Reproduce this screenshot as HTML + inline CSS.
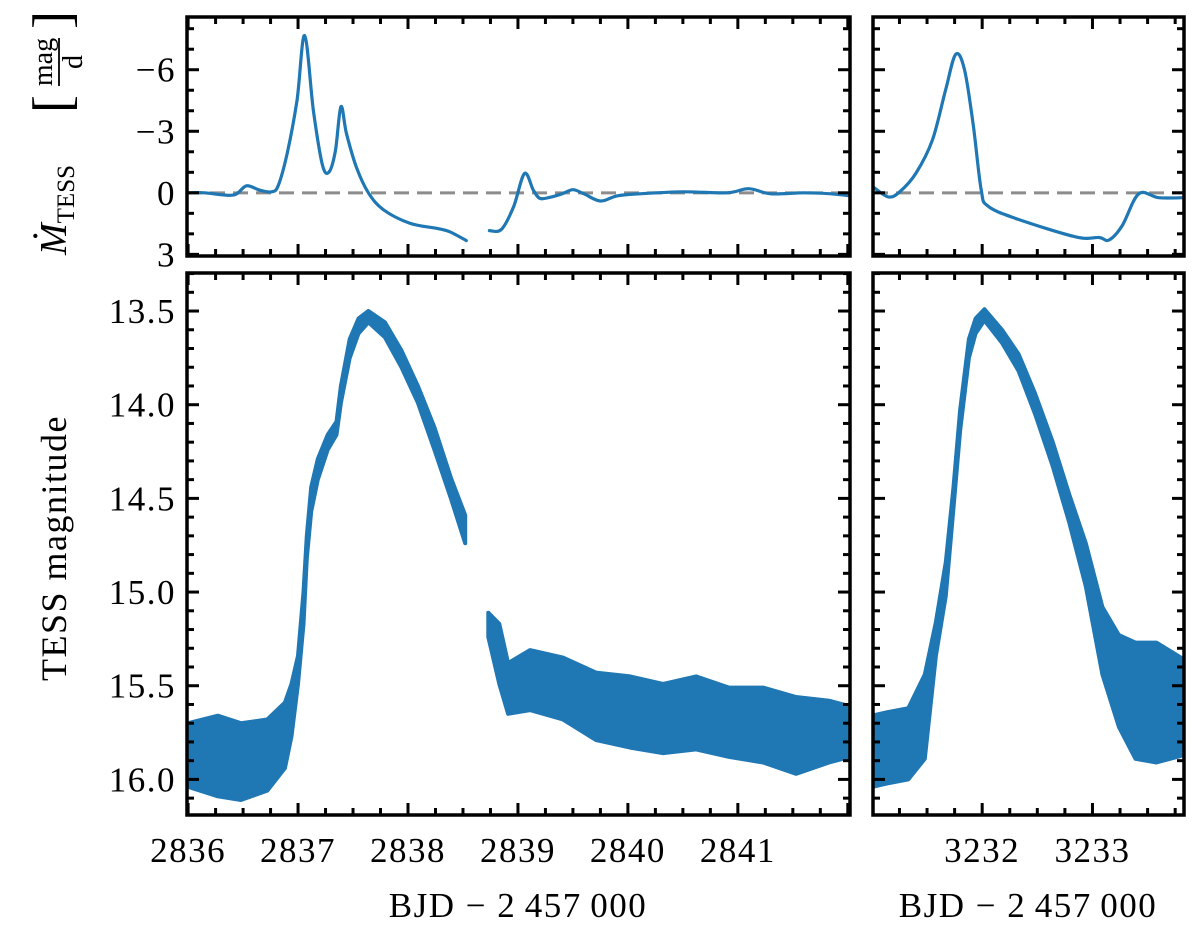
<!DOCTYPE html>
<html><head><meta charset="utf-8"><style>
body{margin:0;background:#fff}
svg text{font-family:"Liberation Serif",serif;fill:#000}
</style></head><body>
<svg id="fig" width="1200" height="937" viewBox="0 0 1200 937" xmlns="http://www.w3.org/2000/svg"></svg>
<script>
// ---- data: top-left panel (magnitude derivative) ----
const dT1a=[2836.0,2836.15,2836.41,2836.53,2836.65,2836.76,2836.82,2836.9,2836.99,2837.06,2837.14,2837.22,2837.28,2837.34,2837.39,2837.44,2837.53,2837.64,2837.78,2838.02,2838.26,2838.38,2838.53];
const dV1a=[0.0,0.0,0.11,-0.34,-0.13,-0.05,-0.36,-1.9,-4.5,-7.67,-4.0,-1.4,-1.0,-2.05,-4.2,-2.9,-1.26,0.0,0.84,1.49,1.73,1.9,2.33];
const dT1b=[2838.74,2838.85,2838.96,2839.06,2839.14,2839.2,2839.29,2839.4,2839.5,2839.6,2839.75,2839.9,2840.1,2840.5,2840.9,2841.1,2841.3,2841.6,2841.85,2842.02];
const dV1b=[1.84,1.78,0.68,-0.94,-0.13,0.27,0.22,0.05,-0.15,0.05,0.4,0.15,0.05,-0.05,0.0,-0.2,0.05,0.0,0.05,0.15];
// ---- data: top-right panel ----
const dT2=[3231.0,3231.02,3231.15,3231.25,3231.4,3231.55,3231.67,3231.76,3231.84,3231.92,3231.99,3232.05,3232.31,3232.85,3233.06,3233.15,3233.27,3233.42,3233.6,3233.83];
const dV2=[-0.3,-0.25,0.2,-0.04,-0.96,-2.6,-5.05,-6.75,-6.0,-3.25,-0.17,0.64,1.26,2.15,2.18,2.3,1.6,0.05,0.24,0.24];
// ---- data: bottom-left light curve (band: bright / faint envelope) ----
const mT1a=[2836.0,2836.27,2836.48,2836.72,2836.88,2836.94,2837.0,2837.05,2837.08,2837.12,2837.18,2837.27,2837.35,2837.39,2837.47,2837.55,2837.64,2837.79,2837.94,2838.09,2838.24,2838.39,2838.52];
const mHi1a=[15.7,15.66,15.7,15.68,15.59,15.49,15.34,15.0,14.7,14.44,14.29,14.16,14.09,13.9,13.65,13.54,13.5,13.56,13.71,13.9,14.12,14.39,14.59];
const mLo1a=[16.04,16.09,16.11,16.06,15.94,15.77,15.49,15.17,14.82,14.57,14.4,14.24,14.16,13.99,13.75,13.62,13.56,13.64,13.8,13.99,14.24,14.5,14.74];
const mT1b=[2838.73,2838.83,2838.91,2839.11,2839.41,2839.71,2840.02,2840.32,2840.62,2840.92,2841.23,2841.53,2841.83,2842.02];
const mHi1b=[15.11,15.17,15.38,15.31,15.35,15.43,15.45,15.49,15.45,15.51,15.51,15.56,15.58,15.61];
const mLo1b=[15.24,15.49,15.65,15.63,15.68,15.79,15.83,15.86,15.84,15.88,15.91,15.97,15.91,15.88];
// ---- data: bottom-right light curve ----
const mT2=[3231.0,3231.15,3231.33,3231.48,3231.58,3231.67,3231.74,3231.8,3231.88,3231.94,3232.02,3232.18,3232.33,3232.48,3232.64,3232.79,3232.94,3233.09,3233.24,3233.39,3233.58,3233.83];
const mHi2=[15.66,15.64,15.62,15.44,15.16,14.84,14.44,14.03,13.65,13.54,13.49,13.6,13.73,13.94,14.2,14.48,14.74,15.08,15.23,15.27,15.27,15.36];
const mLo2=[16.04,16.02,16.0,15.89,15.34,15.02,14.55,14.14,13.75,13.62,13.55,13.67,13.82,14.05,14.33,14.63,14.97,15.44,15.72,15.89,15.91,15.87];
const xTicksL=[2836,2837,2838,2839,2840,2841];
const xTicksR=[3232,3233];
const yTicksTop=[-6,-3,0,3];
const yTicksBot=[13.5,14.0,14.5,15.0,15.5,16.0];

const NS='http://www.w3.org/2000/svg';
const svg=document.getElementById('fig');
function mk(tag,attrs,parent){const e=document.createElementNS(NS,tag);for(const k in attrs)e.setAttribute(k,attrs[k]);(parent||svg).appendChild(e);return e;}
const C='#1f77b4';
const P={
 tl:{x0:187,x1:850,y0:17,y1:256,t0:2835.99,t1:2842.02,v0:-8.57,v1:3.08},
 tr:{x0:873,x1:1184,y0:17,y1:256,t0:3231.01,t1:3233.83,v0:-8.57,v1:3.08},
 bl:{x0:187,x1:850,y0:273,y1:815,t0:2835.99,t1:2842.02,v0:13.297,v1:16.19},
 br:{x0:873,x1:1184,y0:273,y1:815,t0:3231.01,t1:3233.83,v0:13.297,v1:16.19}};
function sx(p,t){return p.x0+(t-p.t0)/(p.t1-p.t0)*(p.x1-p.x0);}
function sy(p,v){return p.y0+(v-p.v0)/(p.v1-p.v0)*(p.y1-p.y0);}

function clip(id,p){const cp=mk('clipPath',{id:id});mk('rect',{x:p.x0,y:p.y0,width:p.x1-p.x0,height:p.y1-p.y0},cp);}
clip('c-tl',P.tl);clip('c-tr',P.tr);clip('c-bl',P.bl);clip('c-br',P.br);

function smooth(pts){
 let d='M'+pts[0][0].toFixed(1)+','+pts[0][1].toFixed(1);
 for(let i=0;i<pts.length-1;i++){
  const p0=pts[Math.max(0,i-1)],p1=pts[i],p2=pts[i+1],p3=pts[Math.min(pts.length-1,i+2)];
  const c1=[p1[0]+(p2[0]-p0[0])/6,p1[1]+(p2[1]-p0[1])/6];
  const c2=[p2[0]-(p3[0]-p1[0])/6,p2[1]-(p3[1]-p1[1])/6];
  d+=' C'+c1[0].toFixed(1)+','+c1[1].toFixed(1)+' '+c2[0].toFixed(1)+','+c2[1].toFixed(1)+' '+p2[0].toFixed(1)+','+p2[1].toFixed(1);
 }
 return d;
}
function line(p,cid,T,V,name){
 const pts=T.map((t,i)=>[sx(p,t),sy(p,V[i])]);
 const e=mk('path',{d:smooth(pts),fill:'none',stroke:C,'stroke-width':3.2,'stroke-linejoin':'round','stroke-linecap':'round','clip-path':'url(#'+cid+')'});
 
 
}
function band(p,cid,T,H,L,name){
 const a=T.map((t,i)=>sx(p,t).toFixed(1)+','+sy(p,H[i]).toFixed(1));
 const b=T.map((t,i)=>sx(p,t).toFixed(1)+','+sy(p,L[i]).toFixed(1)).reverse();
 const e=mk('polygon',{points:a.concat(b).join(' '),fill:C,stroke:C,'stroke-width':4,'stroke-linejoin':'round','clip-path':'url(#'+cid+')'});
 
 
}
function zero(p,cid){
 const e=mk('line',{x1:p.x0,x2:p.x1,y1:sy(p,0),y2:sy(p,0),stroke:'#8c8c8c','stroke-width':3,'stroke-dasharray':'15 8','clip-path':'url(#'+cid+')'});
 
 
}
function frame(p,xMinStep,yMaj,yMinStep,name){
 const g=mk('g',{});
 
 
 const st={stroke:'#000','stroke-width':3};
 const xs=Math.ceil(p.t0/xMinStep)*xMinStep;
 for(let t=xs;t<=p.t1+1e-9;t+=xMinStep){
  const isMaj=Math.abs(t-Math.round(t))<1e-6;const L=isMaj?12:7;const X=sx(p,t);
  mk('line',Object.assign({x1:X,x2:X,y1:p.y1,y2:p.y1-L},st),g);
  mk('line',Object.assign({x1:X,x2:X,y1:p.y0,y2:p.y0+L},st),g);
 }
 const lo=Math.min(p.v0,p.v1),hi=Math.max(p.v0,p.v1);
 const ys=Math.ceil(lo/yMinStep-1e-9);
 for(let k=ys;k*yMinStep<=hi+1e-9;k++){
  const v=k*yMinStep;const isMaj=yMaj.some(m=>Math.abs(m-v)<1e-6);
  const L=isMaj?12:7;const Y=sy(p,v);
  mk('line',Object.assign({x1:p.x0,x2:p.x0+L,y1:Y,y2:Y},st),g);
  mk('line',Object.assign({x1:p.x1,x2:p.x1-L,y1:Y,y2:Y},st),g);
 }
 mk('rect',{x:p.x0,y:p.y0,width:p.x1-p.x0,height:p.y1-p.y0,fill:'none',stroke:'#000','stroke-width':3.5},g);
}
function txt(x,y,s,anchor,size,name,extra,parent){
 const e=mk('text',Object.assign({x:x,y:y,'text-anchor':anchor,'font-size':size},extra||{}),parent);
 e.textContent=s;
 
 
 return e;
}

zero(P.tl,'c-tl');zero(P.tr,'c-tr');
line(P.tl,'c-tl',dT1a,dV1a,'mdot-curve-segment-1');
line(P.tl,'c-tl',dT1b,dV1b,'mdot-curve-segment-2');
line(P.tr,'c-tr',dT2,dV2,'mdot-curve-right');
band(P.bl,'c-bl',mT1a,mHi1a,mLo1a,'light-curve-segment-1');
band(P.bl,'c-bl',mT1b,mHi1b,mLo1b,'light-curve-segment-2');
band(P.br,'c-br',mT2,mHi2,mLo2,'light-curve-right');

frame(P.tl,0.25,yTicksTop,1,'top-left-axes');
frame(P.tr,0.25,yTicksTop,1,'top-right-axes');
frame(P.bl,0.25,yTicksBot,0.1,'bottom-left-axes');
frame(P.br,0.25,yTicksBot,0.1,'bottom-right-axes');

const ls={'letter-spacing':'1.5'};
yTicksTop.forEach(v=>txt(176,sy(P.tl,v)+12,(v<0?'\u2212':'')+Math.abs(v),'end',35,'y-tick-top',ls));
yTicksBot.forEach(v=>txt(176,sy(P.bl,v)+12,v.toFixed(1),'end',35,'y-tick-bottom',ls));
xTicksL.forEach(t=>txt(sx(P.bl,t),862,String(t),'middle',35,'x-tick-left',ls));
xTicksR.forEach(t=>txt(sx(P.br,t),862,String(t),'middle',35,'x-tick-right',ls));
txt(518,917,'BJD \u2212 2\u2009457\u2009000','middle',35,'x-axis-title-left',ls);
txt(1028,917,'BJD \u2212 2\u2009457\u2009000','middle',35,'x-axis-title-right',ls);
txt(0,0,'TESS magnitude','middle',36,'y-axis-title-bottom',{transform:'translate(66,548) rotate(-90)','letter-spacing':'1.5'});
const g=mk('g',{transform:'translate(66,140) rotate(-90)'});


const t1=txt(-115,0,'','start',38,'mdot-symbol',{},g);
t1.innerHTML='<tspan font-style="italic">M</tspan><tspan font-size="25" dy="8">TESS</tspan>';
txt(-96,-6,'\u02D9','middle',40,'mdot-dot',{},g);
txt(36,4,'[','middle',54,'bracket-left',{},g);
txt(78,-14,'mag','middle',28,'frac-num',{},g);
mk('line',{x1:54,x2:102,y1:-7,y2:-7,stroke:'#000','stroke-width':1.8},g);
txt(78,16,'d','middle',28,'frac-den',{},g);
txt(120,4,']','middle',54,'bracket-right',{},g);
</script>
</body></html>
